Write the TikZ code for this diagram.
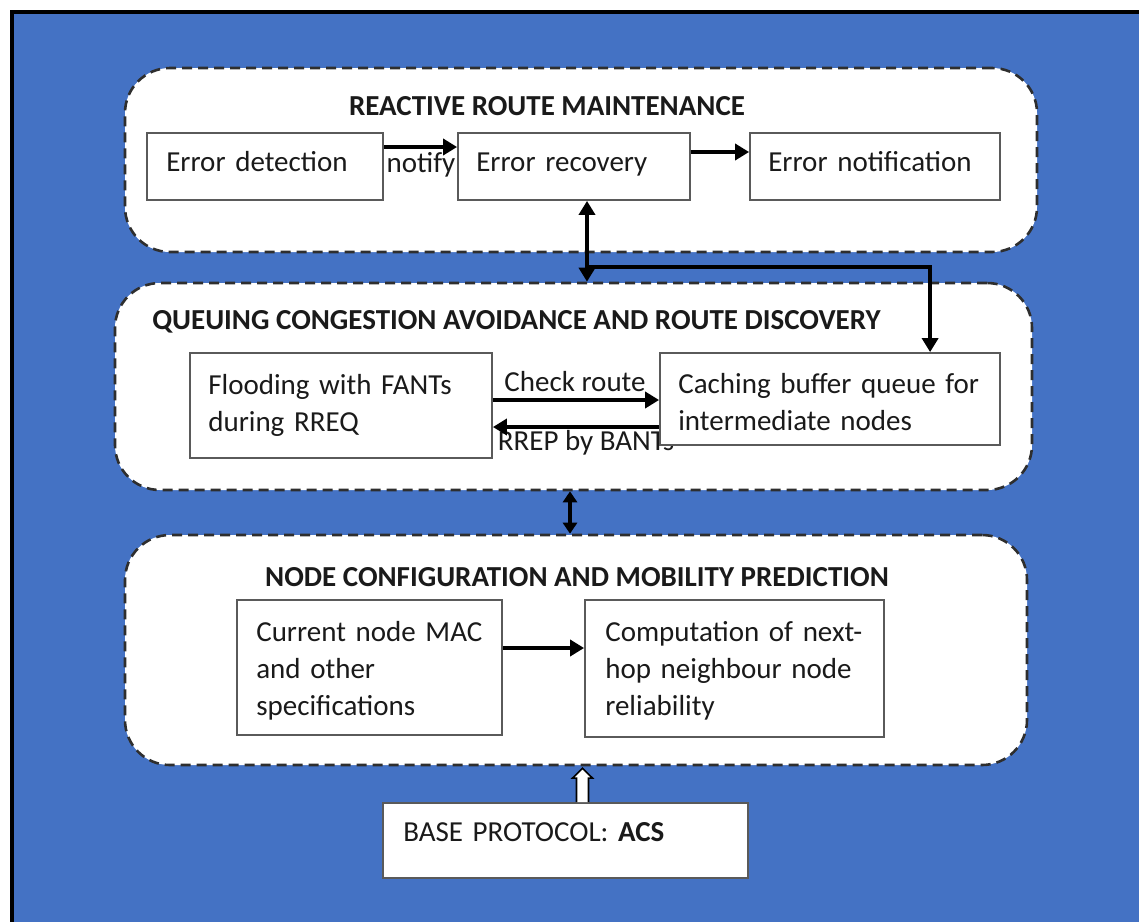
\documentclass[tikz,border=0pt]{standalone}
\usepackage{fontspec}
\setmainfont{Carlito}
\usetikzlibrary{arrows.meta,calc}
\definecolor{bgblue}{HTML}{4472C4}
\definecolor{dashgray}{HTML}{2E2E2E}
\definecolor{boxgray}{HTML}{5A5A5A}
\definecolor{ink}{HTML}{1A1A1A}
\tikzset{
  panel/.style={draw=dashgray, fill=white, line width=2.6pt,
    dash pattern=on 10pt off 6pt, rounded corners=45pt, inner sep=0pt},
  stagebox/.style={draw=boxgray, fill=white, line width=1.8pt, inner sep=0pt},
  stagetext/.style={anchor=north west, inner sep=0pt, text width=400pt, align=left,
    text=ink, font=\fontsize{29}{37}\selectfont},
  paneltitle/.style={font=\fontsize{29}{37}\selectfont\bfseries, text=ink, inner sep=0pt},
  lbl/.style={font=\fontsize{29}{37}\selectfont, text=ink, inner sep=0pt},
  arr/.style={line width=3.8pt, -{Triangle[length=14pt,width=16pt]}},
  biarr/.style={line width=3.8pt, {Triangle[length=14pt,width=16pt]}-{Triangle[length=14pt,width=16pt]}},
}
\begin{document}
\begin{tikzpicture}[x=1pt,y=-1pt]
\clip (0,0) rectangle (1139,921);
\fill[white] (0,0) rectangle (1139,921);
% outer frame
\draw[fill=bgblue, line width=4.5pt] (12,12) rectangle (1170,950);

% three layers
\node[panel, minimum width=912pt, minimum height=184pt] (p1) at (581,160) {};
\node[panel, minimum width=917pt, minimum height=207pt] (p2) at (573.5,386.5) {};
\node[panel, minimum width=902pt, minimum height=230pt] (p3) at (576,650) {};

\node[paneltitle] (t1) at (547,106) {REACTIVE ROUTE MAINTENANCE};
\node[paneltitle] (t2) at (516.5,322) {QUEUING CONGESTION AVOIDANCE AND ROUTE DISCOVERY};
\node[paneltitle] (t3) at (577,577) {NODE CONFIGURATION AND MOBILITY PREDICTION};

% reactive route maintenance
\node[stagebox, minimum width=236pt, minimum height=67pt] (det) at (265,166.5) {};
\node[stagebox, minimum width=232pt, minimum height=67pt] (rec) at (574,166.5) {};
\node[stagebox, minimum width=250pt, minimum height=67pt] (notif) at (875,166.5) {};
\node[stagetext] (dett) at ([shift={(20,13)}]det.north west) {\strut Error detection};
\node[stagetext] (rect) at ([shift={(19,13)}]rec.north west) {\strut Error recovery};
\node[stagetext] (notift) at ([shift={(19,13)}]notif.north west) {\strut Error notification};

\draw[arr] ([yshift=19.5pt]det.east) -- ([yshift=19.5pt]det.east -| rec.west);
\node[lbl] (notify) at (421,165) {notify};
\draw[arr] ([yshift=14.5pt]rec.east) -- ([yshift=14.5pt]rec.east -| notif.west);

% queuing congestion avoidance and route discovery
\node[stagebox, minimum width=302pt, minimum height=105pt] (flood) at (341,405.5) {};
\node[stagetext] (floodt) at ([shift={(19,16)}]flood.north west) {\strut Flooding with FANTs\\during RREQ};
\node[lbl] (rrep) at (586,443) {RREP by BANTs};
\node[stagebox, minimum width=340pt, minimum height=92pt] (cache) at (830,399) {};
\node[stagetext] (cachet) at ([shift={(19,15)}]cache.north west) {\strut Caching buffer queue for\\intermediate nodes};
\node[lbl] (check) at (575,382) {Check route};
\draw[arr] ([yshift=5.5pt]flood.east) -- ([yshift=5.5pt]flood.east -| cache.west);
\draw[arr] ([yshift=-21.5pt]flood.east -| cache.west) -- ([yshift=-21.5pt]flood.east);

% links between recovery and queuing
\coordinate (j) at (587,267);
\coordinate (k) at (932,267);
\draw[biarr] ([xshift=13pt]rec.south) -- ([xshift=13pt]rec.south |- p2.north);
\draw[line width=3.8pt] (j) -- (k);
\draw[arr] ([xshift=-1.9pt]k) -- ([xshift=-1.9pt]k |- cache.north);

% link between queuing and node configuration
\draw[line width=3.8pt, {Triangle[length=11pt,width=14pt]}-{Triangle[length=11pt,width=14pt]}]
  ([xshift=-3.5pt]p2.south) -- ([xshift=-3.5pt]p2.south |- p3.north);

% node configuration and mobility prediction
\node[stagebox, minimum width=265pt, minimum height=135pt] (cur) at (369.5,667.5) {};
\node[stagetext] (curt) at ([shift={(20,16)}]cur.north west) {\strut Current node MAC\\and other\\specifications};
\node[stagebox, minimum width=299pt, minimum height=137pt] (comp) at (734.5,668.5) {};
\node[stagetext] (compt) at ([shift={(21,16)}]comp.north west) {\strut Computation of next-\\hop neighbour node\\reliability};
\draw[arr] ([yshift=19.5pt]cur.east) -- ([yshift=19.5pt]cur.east -| comp.west);

% base protocol
\node[stagebox, minimum width=365pt, minimum height=75pt] (base) at (565.5,840.5) {};
\node[stagetext] (baset) at ([shift={(21,13)}]base.north west) {\strut BASE PROTOCOL: \textbf{ACS}};
\coordinate (ab) at ([xshift=17pt]base.north);
\draw[fill=white, line width=1.6pt, line join=miter]
  ($(ab)+(-6,0)$) -- ($(ab)+(-6,-24)$) -- ($(ab)+(-10,-24)$) --
  ($(ab |- p3.south)+(0,2)$) --
  ($(ab)+(10,-24)$) -- ($(ab)+(6,-24)$) -- ($(ab)+(6,0)$);
\end{tikzpicture}
\end{document}
